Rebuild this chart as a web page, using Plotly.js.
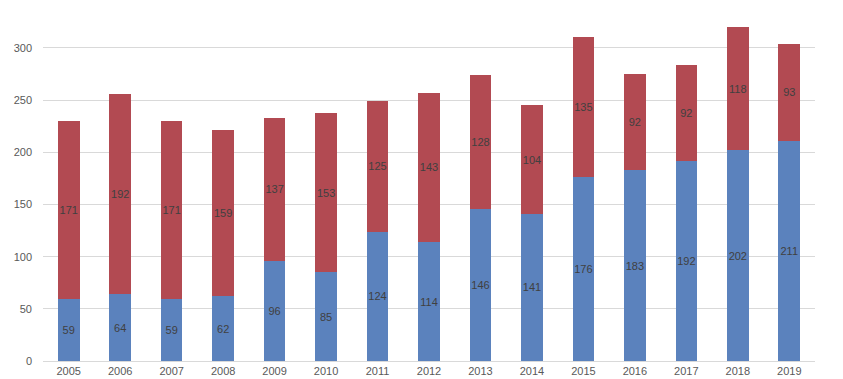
<!DOCTYPE html>
<html><head><meta charset="utf-8">
<script src="https://cdn.plot.ly/plotly-3.0.1.min.js"></script>
<style>html,body{margin:0;padding:0;background:#fff}#chart{width:843px;height:379px}</style>
</head><body><div id="chart"></div>
<script>
const years = ['2005','2006','2007','2008','2009','2010','2011','2012','2013','2014','2015','2016','2017','2018','2019'];
const blueValues = [59,64,59,62,96,85,124,114,146,141,176,183,192,202,211];
const redValues = [171,192,171,159,137,153,125,143,128,104,135,92,92,118,93];
const yTicks = [0,50,100,150,200,250,300];

const common = {
  type:'bar', x:years, textposition:'inside', insidetextanchor:'middle', textangle:0,
  textfont:{family:'Liberation Sans, Arial, sans-serif', size:11, color:'#404040'},
  hoverinfo:'x+y', constraintext:'none', cliponaxis:false
};
const traces = [
  Object.assign({}, common, {y:blueValues, text:blueValues.map(String), marker:{color:'#5B82BD'}, name:'A'}),
  Object.assign({}, common, {y:redValues, text:redValues.map(String), marker:{color:'#B24A52'}, name:'B'})
];
const layout = {
  barmode:'stack', bargap:0.58, showlegend:false,
  uniformtext:{mode:'show', minsize:11},
  width:843, height:379,
  margin:{l:43, r:28, t:0, b:18},
  paper_bgcolor:'#fff', plot_bgcolor:'#fff',
  font:{family:'Liberation Sans, Arial, sans-serif', size:11, color:'#595959'},
  xaxis:{type:'category', showgrid:false, showline:false, ticks:'', ticklabelstandoff:2, tickfont:{size:11, color:'#595959'}, automargin:false},
  yaxis:{range:[0,346], tickvals:yTicks, ticktext:yTicks.map(String), showgrid:true, gridcolor:'#D9D9D9', gridwidth:1,
         zeroline:true, zerolinecolor:'#D9D9D9', zerolinewidth:1, showline:false, ticks:'', ticklabelstandoff:10,
         tickfont:{size:11, color:'#595959'}, automargin:false}
};
Plotly.newPlot('chart', traces, layout, {displayModeBar:false, staticPlot:true});
</script></body></html>
